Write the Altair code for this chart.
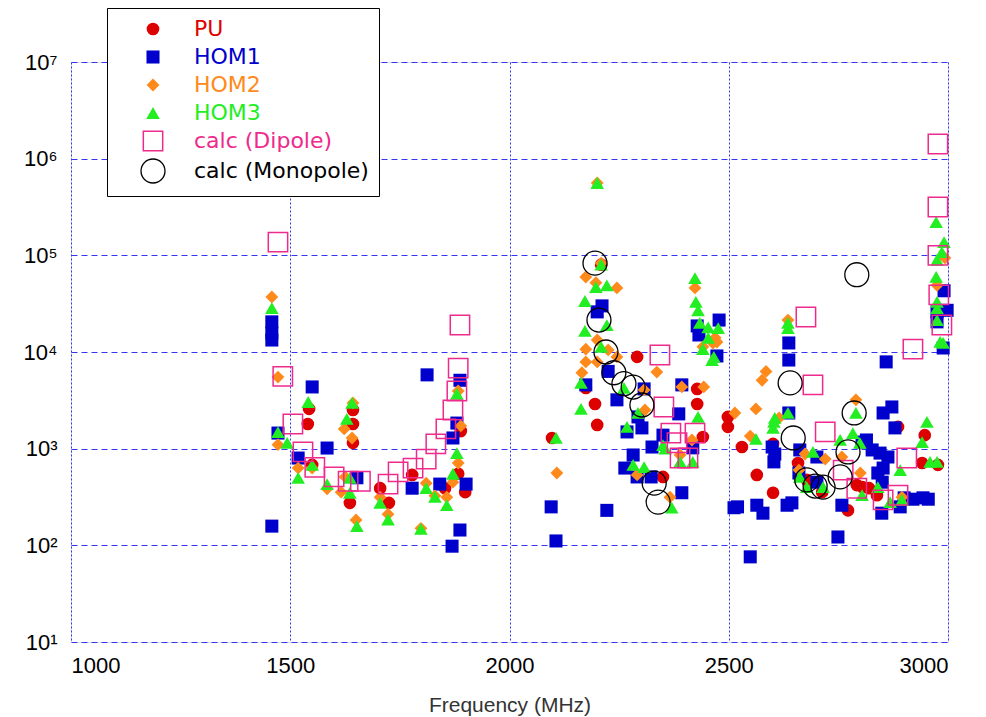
import altair as alt
import pandas as pd

# ---------------- data ----------------
series_names = ["PU", "HOM1", "HOM2", "HOM3", "calc (Dipole)", "calc (Monopole)"]

pu_freq = [1540, 1543, 1550, 1636, 1643, 1643, 1643, 1705, 1725, 1778, 1853, 1883, 1889, 1899,
           2097, 2174, 2195, 2200, 2209, 2291, 2350, 2428, 2428, 2441, 2498, 2498, 2530, 2564,
           2601, 2601, 2658, 2678, 2713, 2772, 2792, 2805, 2820, 2838, 2886, 2941, 2947, 2977]
pu_val = [1800, 2580, 680, 275, 2510, 1800, 1150, 390, 275, 535, 390, 550, 1520, 355,
          1290, 4250, 2900, 1760, 80000, 8900, 510, 4150, 2900, 1320, 2130, 1680, 1040, 535,
          1120, 350, 710, 475, 355, 230, 420, 400, 390, 330, 1680, 710, 1380, 680]

hom1_freq = [1458, 1458, 1458, 1458, 1472, 1550, 1518, 1584, 1652, 1778, 1812, 1887, 1880, 1871,
             1841, 1901, 1887, 1869, 2095, 2222, 2106, 2211, 2200, 2225, 2174, 2307, 2245, 2293,
             2302, 2268, 2393, 2386, 2350, 2325, 2418, 2282, 2263, 2291, 2323, 2393, 2478, 2428,
             2432, 2473, 2637, 2637, 2637, 2599, 2605, 2603, 2662, 2701, 2660, 2701, 2512, 2520,
             2564, 2578, 2633, 2644, 2749, 2549, 2758, 2859, 2872, 2852, 2879, 2804, 2827, 2845,
             2863, 2852, 2943, 2920, 2955, 2891, 2849, 2991, 2975, 2998, 2975, 2989, 2840, 2850,
             2900, 2814]
hom1_val = [20500, 15700, 13300, 158, 1450, 4350, 800, 1015, 500, 390, 5800, 5100, 1840, 1290,
            430, 430, 144, 98, 250, 230, 111, 30000, 26000, 6300, 4570, 4150, 3200, 2130,
            1640, 1490, 4570, 2290, 1380, 1040, 1020, 860, 630, 510, 510, 350, 21400, 18600,
            15000, 9100, 12400, 8260, 2340, 1040, 880, 730, 970, 820, 560, 450, 245, 250,
            260, 215, 260, 275, 122, 76, 260, 7900, 2700, 2340, 1640, 1170, 970, 900,
            820, 630, 310, 300, 300, 250, 215, 43000, 26000, 27000, 20500, 11000, 560, 450,
            310, 1230]

hom2_freq = [1458, 1472, 1472, 1518, 1550, 1584, 1616, 1625, 1643, 1623, 1641, 1650, 1705, 1723,
             1889, 1883, 1883, 1810, 1871, 1830, 1857, 1798, 2108, 2200, 2209, 2174, 2197, 2245,
             2174, 2200, 2225, 2245, 2174, 2200, 2165, 2336, 2307, 2309, 2393, 2443, 2416, 2389,
             2291, 2366, 2423, 2469, 2473, 2441, 2464, 2635, 2585, 2576, 2514, 2562, 2615, 2549,
             2674, 2720, 2660, 2790, 2758, 2800, 2895, 2993, 2975]
hom2_val = [37100, 5500, 1100, 630, 630, 385, 355, 510, 2970, 1600, 1290, 183, 315, 210,
            1720, 3950, 710, 440, 450, 325, 315, 150, 560, 560000, 83000, 59700, 52000, 46000,
            10700, 13300, 10500, 8900, 7900, 7900, 6100, 6200, 4050, 2510, 4350, 4350, 1230, 860,
            535, 315, 46000, 14000, 12700, 11300, 12400, 21400, 6300, 5100, 2340, 2580, 2080, 1350,
            880, 780, 600, 3200, 820, 560, 315, 94000, 49000]

hom3_freq = [1458, 1472, 1493, 1541, 1518, 1550, 1584, 1629, 1641, 1636, 1636, 1652, 1705, 1723,
             1880, 1880, 1871, 1810, 1830, 1857, 1798, 2106, 2200, 2209, 2197, 2222, 2172, 2222,
             2172, 2209, 2163, 2261, 2163, 2293, 2268, 2350, 2355, 2389, 2418, 2282, 2307, 2370,
             2430, 2423, 2425, 2430, 2434, 2453, 2476, 2453, 2441, 2466, 2462, 2635, 2635, 2605,
             2601, 2635, 2562, 2692, 2662, 2678, 2715, 2790, 2783, 2799, 2754, 2952, 2941, 2959,
             2975, 2891, 2804, 2868, 2895, 2840, 2973, 2991, 2986, 2975, 2973, 2975, 2975, 2975,
             2982, 2989, 2603]
hom3_val = [28500, 1480, 1150, 3040, 500, 680, 430, 2030, 2970, 500, 350, 158, 275, 185,
            3700, 900, 550, 390, 317, 260, 148, 1290, 560000, 80000, 47000, 49000, 33700, 19000,
            16500, 11300, 4800, 4250, 2580, 2340, 1680, 1090, 1000, 730, 730, 680, 645, 245,
            2130, 58000, 33000, 27000, 20000, 18000, 17700, 14000, 10700, 8900, 8260, 20000, 17700, 2080,
            1640, 2340, 1260, 925, 510, 400, 400, 2340, 1450, 1150, 1230, 1890, 1170, 730,
            730, 600, 330, 280, 295, 400, 220000, 137000, 108000, 90000, 60000, 33000, 28500, 21400,
            12700, 12400, 1890]

dip_freq = [1472, 1483, 1506, 1529, 1556, 1600, 1632, 1660, 1723, 1746, 1780, 1810, 1832, 1855,
            1871, 1880, 1883, 1887, 2343, 2352, 2368, 2423, 2382, 2389, 2407, 2676, 2692, 2720,
            2761, 2792, 2852, 2886, 2906, 2920, 2977, 2977, 2977, 2979, 2986]
dip_val = [137000, 5600, 1800, 925, 640, 510, 460, 460, 430, 575, 630, 780, 1120, 1600,
           2510, 3950, 6800, 19000, 9300, 2700, 1450, 1450, 1150, 800, 800, 23000, 4570, 1490,
           600, 390, 295, 330, 800, 10700, 1420000, 316000, 100000, 39000, 19000]

mono_freq = [2195, 2204, 2220, 2238, 2261, 2282, 2302, 2330, 2339, 2640, 2647, 2678, 2697, 2715,
             2754, 2772, 2786, 2792]
mono_val = [83000, 21400, 10000, 6100, 4700, 4340, 2830, 440, 280, 4790, 1290, 475, 410, 400,
            510, 925, 2340, 63000]

# ---------------- styling per series ----------------
shapes = ["circle", "square", "diamond", "triangle-up", "square", "circle"]
fills = ["#dd0000", "#0000cc", "#ff8a1c", "#22ee22", "transparent", "transparent"]
strokes = ["#dd0000", "#0000cc", "#ff8a1c", "#22ee22", "#ee2a8c", "#000000"]
sizes = [160, 170, 165, 185, 375, 575]
swidths = [0, 0, 0, 0, 1.5, 1.3]

rows = []
for k, (name, fr, vals) in enumerate(zip(
        series_names,
        [pu_freq, hom1_freq, hom2_freq, hom3_freq, dip_freq, mono_freq],
        [pu_val, hom1_val, hom2_val, hom3_val, dip_val, mono_val])):
    for f, v in zip(fr, vals):
        rows.append({"freq": f, "val": v, "series": name, "ord": k})
df = pd.DataFrame(rows)

legend = alt.Legend(
    title=None, orient="none", legendX=36, legendY=-54,
    strokeColor="black", fillColor="white", padding=10,
    labelFont="DejaVu Sans", labelFontSize=22, labelOffset=28, rowPadding=-4.6,
    gridAlign="all", symbolOffset=23, labelLimit=400,
    labelColor={"expr": "scale('stroke', datum.value)"},
)

sc = dict(domain=series_names)
grid_blue = "#3636f0"

chart = alt.Chart(df).mark_point(opacity=1).encode(
    x=alt.X("freq:Q",
            scale=alt.Scale(domain=[1000, 3000], nice=False, zero=False),
            axis=alt.Axis(values=[1000, 1500, 2000, 2500, 3000], format="d",
                          grid=True, gridColor=grid_blue, gridOpacity=1, gridDash=[2, 2],
                          gridWidth=1, ticks=False, domain=False, labelFont="Liberation Sans",
                          labelFontSize=22, labelColor="black", labelPadding=13,
                          title="Frequency (MHz)", titleFont="Liberation Sans",
                          titleFontSize=21, titleFontWeight="normal", titleColor="#333333",
                          titlePadding=18)),
    y=alt.Y("val:Q",
            scale=alt.Scale(type="log", domain=[10, 10000000], nice=False),
            axis=alt.Axis(values=[10, 100, 1000, 10000, 100000, 1000000, 10000000],
                          labelExpr="'10' + ['⁰','¹','²','³','⁴','⁵','⁶','⁷'][round(log(datum.value)/LN10)]",
                          grid=True, gridColor=grid_blue, gridOpacity=1, gridDash=[6, 4],
                          gridWidth=1, ticks=False, domain=False, labelFont="Liberation Sans",
                          labelFontSize=22, labelColor="black", labelPadding=14,
                          title=None)),
    shape=alt.Shape("series:N", scale=alt.Scale(range=shapes, **sc), legend=legend),
    fill=alt.Fill("series:N", scale=alt.Scale(range=fills, **sc), legend=legend),
    stroke=alt.Stroke("series:N", scale=alt.Scale(range=strokes, **sc), legend=legend),
    size=alt.Size("series:N", scale=alt.Scale(type="ordinal", range=sizes, **sc), legend=legend),
    strokeWidth=alt.StrokeWidth("series:N", scale=alt.Scale(type="ordinal", range=swidths, **sc),
                                legend=legend),
    order=alt.Order("ord:Q"),
).properties(
    width=877, height=580,
    autosize=alt.AutoSizeParams(type="none"),
    padding={"left": 71, "top": 62, "right": 38, "bottom": 75},
).configure_view(stroke="#1f2fd0", strokeWidth=1.5).configure_legend(
    strokeWidth=2
).configure(background="white")

chart.save("out.html", embed_options={"renderer": "svg", "actions": False})
